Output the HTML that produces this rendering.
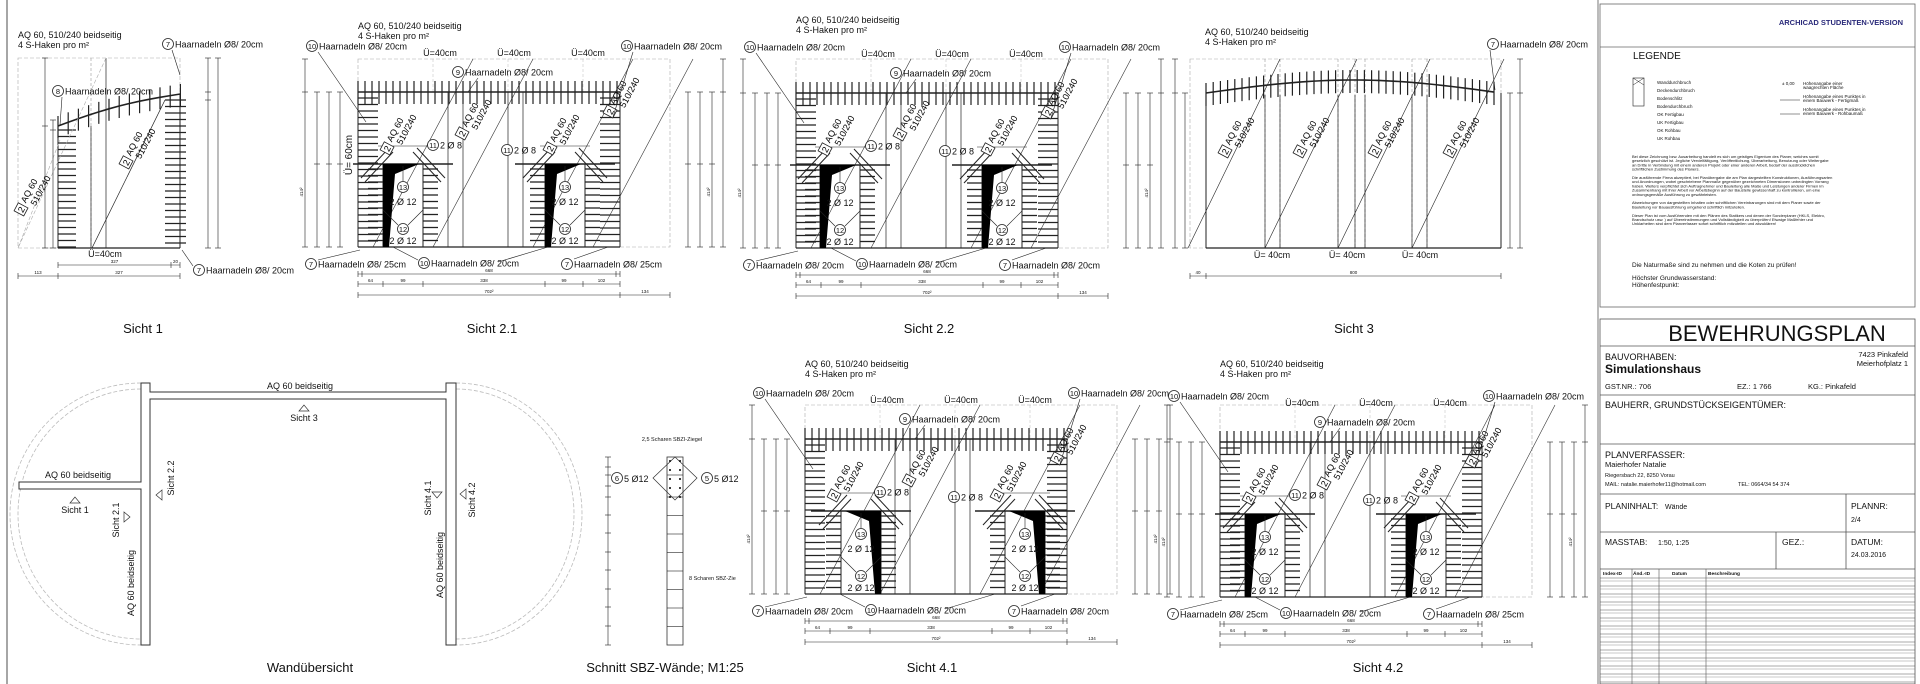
<!DOCTYPE html>
<html><head><meta charset="utf-8"><style>
html,body{margin:0;padding:0;background:#fff;}
svg{display:block;font-family:"Liberation Sans",sans-serif;}
</style></head><body>
<svg id="s" width="1920" height="684" viewBox="0 0 1920 684" xmlns="http://www.w3.org/2000/svg">
<rect width="1920" height="684" fill="#fff"/>
<g id="g"></g>
</svg>
<script>
var S=[];
function L(x1,y1,x2,y2,w,c,d){S.push('<line x1="'+x1+'" y1="'+y1+'" x2="'+x2+'" y2="'+y2+'" stroke="'+(c||'#222')+'" stroke-width="'+(w||0.8)+'"'+(d?' stroke-dasharray="'+d+'"':'')+'/>');}
function R(x,y,w,h,sw,c,d,f){S.push('<rect x="'+x+'" y="'+y+'" width="'+w+'" height="'+h+'" fill="'+(f||'none')+'" stroke="'+(c||'#222')+'" stroke-width="'+(sw||0.8)+'"'+(d?' stroke-dasharray="'+d+'"':'')+'/>');}
function T(x,y,s,fs,a,rot,wt,col){S.push('<text x="'+x+'" y="'+y+'" font-size="'+(fs||9)+'" text-anchor="'+(a||'start')+'"'+(rot?' transform="rotate('+rot+' '+x+' '+y+')"':'')+' font-weight="'+(wt||'normal')+'" fill="'+(col||'#111')+'">'+s+'</text>');}
function C(x,y,n){S.push('<circle cx="'+x+'" cy="'+y+'" r="5.5" fill="#fff" stroke="#222" stroke-width="0.8"/>');T(x,y+3,n,7.5,'middle');}
function CT(x,y,n,s){C(x,y,n);T(x+7,y+3.5,s,9);}
function AQ(x,y){S.push('<g transform="translate('+x+' '+y+') rotate(-62)"><rect x="0" y="-9" width="9" height="11" fill="#fff" stroke="#222" stroke-width="0.8"/><text x="4.5" y="0" font-size="9" text-anchor="middle">2</text><text x="12" y="-2" font-size="9">AQ 60</text><text x="14" y="8" font-size="9">510/240</text></g>');}
function P(pts,f){S.push('<polygon points="'+pts+'" fill="'+(f||'#000')+'"/>');}
function vdim(x,ys){L(x,ys[0],x,ys[ys.length-1],0.6);ys.forEach(function(y){L(x-3,y,x+3,y,0.6);});}
function hdim(y,xs,labs){L(xs[0],y,xs[xs.length-1],y,0.6);xs.forEach(function(x){L(x,y-3,x,y+3,0.6);});if(labs)for(var i=0;i<labs.length;i++)T((xs[i]+xs[i+1])/2,y-2,labs[i],4.5,'middle');}

function wallView(Lx,Tp,ops,triRight,dashTop){
 var B=Tp+155,W=262;
 R(Lx,dashTop,312,B-dashTop,0.6,'#aaa','4 2');
 [75,150,225].forEach(function(o){L(Lx+o,dashTop,Lx+o,Tp,0.5,'#bbb','3 2');});
 // diagonals
 [15,75,175,235].forEach(function(o){L(Lx+o,B,Lx+o+100,dashTop,0.6,'#333');});
 // top hatch
 L(Lx,Tp,Lx+W,Tp,1.6);
 for(var x=Lx;x<=Lx+W;x+=7)L(x,Tp-11,x,Tp+12,1.2);
 // columns
 for(var y=Tp+6;y<B;y+=6.5){L(Lx,y,Lx+20,y,1.3);L(Lx+242,y,Lx+W,y,1.3);}
 L(Lx,Tp,Lx,B,1);L(Lx+W,Tp,Lx+W,B,1);
 [90,105,150,165].forEach(function(o){L(Lx+o,Tp,Lx+o,B,0.7);});
 L(Lx,B,Lx+W,B,1.3);
 ops.forEach(function(o){
  var a=Lx+o,lt=Tp+72;
  L(a-30,lt,a+70,lt,1.6);
  for(var y=lt+5;y<B;y+=6.5){L(a-15,y,a,y,1.3);L(a+40,y,a+55,y,1.3);}
  L(a,lt,a,B,1);L(a+40,lt,a+40,B,1);
  L(a-22,lt+14,a+6,lt-16,1);L(a-18,lt+18,a+10,lt-12,1);
  L(a+34,lt-16,a+62,lt+14,1);L(a+30,lt-12,a+58,lt+18,1);
  L(a-5,lt-18,a+45,lt-18,0.6);
  if(!triRight)P((a)+','+lt+' '+(a+36)+','+lt+' '+(a+12)+','+(lt+10)+' '+(a+6)+','+B+' '+a+','+B);
  else P((a+40)+','+lt+' '+(a+4)+','+lt+' '+(a+28)+','+(lt+10)+' '+(a+34)+','+B+' '+(a+40)+','+B);
  C(a+20,Tp+95,'13');T(a+20,Tp+113,'2 Ø 12',9,'middle');
  C(a+20,Tp+137,'12');T(a+20,Tp+152,'2 Ø 12',9,'middle');
  L(a+20,Tp+89,a+20,lt+2,0.6);L(a+15,Tp+133,a,Tp+118,0.6);L(a+25,Tp+133,a+40,Tp+118,0.6);
 });
 // dims
 [-53,-41,-29,-18].forEach(function(o,i){vdim(Lx+o,i==0?[dashTop,Tp,B]:[Tp,Tp+72,B]);});
 [330,342,354,365].forEach(function(o,i){vdim(Lx+o,i==3?[dashTop,Tp,B]:[Tp,Tp+72,B]);});
 T(Lx-55,Tp+100,'414²',4.5,'middle',-90);T(Lx+352,Tp+100,'414²',4.5,'middle',-90);
 hdim(B+27,[Lx,Lx+4,Lx+258,Lx+W],['','668','']);
 hdim(B+37,[Lx,Lx+25,Lx+65,Lx+187,Lx+225,Lx+W],['64','99','338','99','102']);
 hdim(B+48,[Lx,Lx+W,Lx+312],['702²','134']);
 // AQ labels
 AQ(Lx+30,Tp+62);AQ(Lx+105,Tp+47);AQ(Lx+193,Tp+62);AQ(Lx+253,Tp+25);
}
function wallTexts(Lx,Tp,ty,ibot,seven2){
 T(Lx,ty,'AQ 60, 510/240 beidseitig',9);T(Lx,ty+10,'4 S-Haken pro m²',9);
 CT(Lx-46,Tp-46,'10','Haarnadeln Ø8/ 20cm');L(Lx-40,Tp-40,Lx+8,Tp+30,0.6);
 T(Lx+82,Tp-36,'Ü=40cm',9,'middle');T(Lx+156,Tp-36,'Ü=40cm',9,'middle');T(Lx+230,Tp-36,'Ü=40cm',9,'middle');
 CT(Lx+100,Tp-20,'9','Haarnadeln Ø8/ 20cm');L(Lx+120,Tp-14,Lx+110,Tp,0.6);
 CT(Lx+269,Tp-46,'10','Haarnadeln Ø8/ 20cm');L(Lx+275,Tp-40,Lx+255,Tp+25,0.6);
 CT(Lx+75,Tp+53,'11','2 Ø 8');CT(Lx+149,Tp+58,'11','2 Ø 8');
 CT(Lx-47,Tp+172,'7',ibot);L(Lx-40,Tp+168,Lx+2,Tp+158,0.6);
 CT(Lx+66,Tp+171,'10','Haarnadeln Ø8/ 20cm');L(Lx+60,Tp+168,Lx+35,Tp+155,0.6);L(Lx+140,Tp+170,Lx+190,Tp+155,0.6);
 CT(Lx+209,Tp+172,'7',seven2);L(Lx+216,Tp+167,Lx+250,Tp+155,0.6);
}
// left frame
L(7,0,7,684,1.5,'#888');L(1598,0,1598,684,1,'#777');
// Sicht 1
R(18,58,162,190,0.6,'#aaa','4 2');
L(91,58,91,248,0.6,'#999','3 2');L(106,58,106,248,0.7);L(91,126,91,248,0.7);
var pts=[];for(var i=0;i<=12;i++){var x=58+i*10.2;var y=126-32*i/12-4*Math.sin(Math.PI*i/12);pts.push(x+','+y);L(x,y-10,x,y+12,1.2);}
S.push('<polyline points="'+pts.join(' ')+'" fill="none" stroke="#222" stroke-width="1.6"/>');
for(var y=130;y<248;y+=6.5)L(58,y,76,y,1.3);for(var y=100;y<248;y+=6.5)L(165,y,186,y,1.3);
L(58,126,58,248,1);L(180,94,180,248,1);L(58,248,180,248,1.3);
L(92,248,165,100,0.7);L(18,248,60,140,0.6,'#aaa','4 2');L(106,58,18,248,0.6,'#aaa','4 2');
T(18,38,'AQ 60, 510/240 beidseitig',9);T(18,48,'4 S-Haken pro m²',9);
CT(168,44,'7','Haarnadeln Ø8/ 20cm');L(172,50,180,75,0.6);
CT(58,91,'8','Haarnadeln Ø8/ 20cm');L(62,97,60,125,0.6);
T(105,257,'Ü=40cm',9,'middle');AQ(22,215);AQ(127,168);
CT(199,270,'7','Haarnadeln Ø8/ 20cm');L(193,266,182,250,0.6);
vdim(45,[58,126,248]);vdim(53,[120,130,248]);vdim(208,[58,92,100,248]);vdim(218,[58,248]);
hdim(265,[58,171,180],['327','20']);hdim(276,[18,58,180],['113','327']);
T(143,333,'Sicht 1',13,'middle');
// Sicht 2.1 / 2.2
wallView(358,92,[25,187],false,59);wallTexts(358,92,29,'Haarnadeln Ø8/ 25cm','Haarnadeln Ø8/ 25cm');
T(352,155,'Ü= 60cm',10,'middle',-90);
T(492,333,'Sicht 2.1',13,'middle');
wallView(796,93,[24,186],false,59);wallTexts(796,93,23,'Haarnadeln Ø8/ 20cm','Haarnadeln Ø8/ 20cm');
T(929,333,'Sicht 2.2',13,'middle');
// Sicht 4.1 / 4.2
wallView(805,439,[36,200],true,405);wallTexts(805,439,367,'Haarnadeln Ø8/ 20cm','Haarnadeln Ø8/ 20cm');
T(932,672,'Sicht 4.1',13,'middle');
wallView(1220,442,[25,186],false,405);wallTexts(1220,442,367,'Haarnadeln Ø8/ 25cm','Haarnadeln Ø8/ 25cm');
T(1378,672,'Sicht 4.2',13,'middle');
// Sicht 3
R(1190,59,311,189,0.6,'#aaa','4 2');
[1265,1280,1338,1355,1365,1412,1427].forEach(function(x){L(x,59,x,248,0.6,'#999','3 2');L(x,95,x,248,0.7);});
var p3=[];for(var x=1206;x<=1501;x+=7.2){var t=(x-1206)/295;var y=93-13*Math.sin(Math.PI*t);p3.push(x+','+y);L(x,y-10,x,y+13,1.2);}
S.push('<polyline points="'+p3.join(' ')+'" fill="none" stroke="#222" stroke-width="1.6"/>');
L(1206,93,1206,248,1);L(1501,93,1501,248,1);L(1206,248,1501,248,1.3);
[1188,1265,1338,1412].forEach(function(x){L(x,248,x+92,59,0.6);});
AQ(1226,157);AQ(1301,157);AQ(1376,157);AQ(1451,157);
T(1272,258,'Ü= 40cm',9,'middle');T(1347,258,'Ü= 40cm',9,'middle');T(1420,258,'Ü= 40cm',9,'middle');
T(1205,35,'AQ 60, 510/240 beidseitig',9);T(1205,45,'4 S-Haken pro m²',9);
CT(1493,44,'7','Haarnadeln Ø8/ 20cm');L(1490,50,1495,90,0.6);
vdim(1175,[59,93,248]);vdim(1185,[93,248]);vdim(1510,[93,248]);vdim(1520,[59,93,248]);
hdim(276,[1190,1206,1501],['40','800']);
T(1354,333,'Sicht 3',13,'middle');
// Wandübersicht
S.push('<path d="M141 383 A131 131 0 0 0 141 645" fill="none" stroke="#bbb" stroke-width="0.8" stroke-dasharray="4 2"/>');
S.push('<path d="M141 389 A123 125 0 0 0 141 639" fill="none" stroke="#bbb" stroke-width="0.8" stroke-dasharray="4 2"/>');
S.push('<path d="M456 383 A126 131 0 0 1 456 645" fill="none" stroke="#bbb" stroke-width="0.8" stroke-dasharray="4 2"/>');
S.push('<path d="M456 389 A118 125 0 0 1 456 639" fill="none" stroke="#bbb" stroke-width="0.8" stroke-dasharray="4 2"/>');
S.push('<path d="M141 383 L150 383 L150 392 L446 392 L446 383 L456 383 L456 645 L446 645 L446 399 L150 399 L150 645 L141 645 L141 489 L19 489 L19 482 L141 482 Z" fill="#fff" stroke="#333" stroke-width="1"/>');
T(300,389,'AQ 60 beidseitig',9,'middle');
S.push('<polygon points="304,405 299,411 309,411" fill="none" stroke="#333" stroke-width="0.7"/>');T(304,421,'Sicht 3',9,'middle');
T(78,478,'AQ 60 beidseitig',9,'middle');
S.push('<polygon points="75,497 70,503 80,503" fill="none" stroke="#333" stroke-width="0.7"/>');T(75,513,'Sicht 1',9,'middle');
T(119,520,'Sicht 2.1',9,'middle',-90);S.push('<polygon points="124,512 124,522 130,517" fill="none" stroke="#333" stroke-width="0.7"/>');
T(174,478,'Sicht 2.2',9,'middle',-90);S.push('<polygon points="162,490 162,500 156,495" fill="none" stroke="#333" stroke-width="0.7"/>');
T(134,583,'AQ 60 beidseitig',9,'middle',-90);
T(431,498,'Sicht 4.1',9,'middle',-90);S.push('<polygon points="432,492 442,492 437,498" fill="none" stroke="#333" stroke-width="0.7"/>');
T(443,565,'AQ 60 beidseitig',9,'middle',-90);
T(475,500,'Sicht 4.2',9,'middle',-90);S.push('<polygon points="466,489 466,499 460,494" fill="none" stroke="#333" stroke-width="0.7"/>');
T(310,672,'Wandübersicht',13,'middle');
// Schnitt SBZ
R(667,457,16,188,0.8,'#333');
for(var y=497;y<645;y+=18.5)L(667,y,683,y,0.6);
L(667,475,683,475,0.6);
vdim(608,[457,467,475,486,497,515,533,552,570,589,607,626,645]);
S.push('<polygon points="675,457 697,478 675,500 653,478" fill="none" stroke="#333" stroke-width="0.7"/>');
[[670,461],[680,461],[670,470],[680,470],[670,479],[680,479],[670,488],[680,488],[670,497],[680,497]].forEach(function(p){S.push('<circle cx="'+p[0]+'" cy="'+p[1]+'" r="1" fill="#000"/>');});
T(672,441,'2,5 Scharen SBZI-Ziegel',5.5,'middle');
C(617,478,'6');T(624,482,'5 Ø12',9);C(707,478,'5');T(714,482,'5 Ø12',9);
T(689,580,'8 Scharen SBZ-Zie',5.5);
T(665,672,'Schnitt SBZ-Wände; M1:25',13,'middle');
// Title block
R(1600,4,315,303,0.8,'#666');L(1600,47,1915,47,0.8,'#666');
T(1903,25,'ARCHICAD STUDENTEN-VERSION',7.5,'end',0,'bold','#2a2a7a');
T(1633,59,'LEGENDE',10);
R(1633,78,11,28,0.6);L(1633,78,1644,85,0.5);L(1644,78,1633,85,0.5);
var lg=['Wanddurchbruch','Deckendurchbruch','Bodenschlitz','Bodendurchbruch','OK Fertigbau','UK Fertigbau','OK Rohbau','UK Rohbau'];
lg.forEach(function(s,i){T(1657,84+i*8,s,4.5);});
T(1782,85,'± 0,00',4.5);T(1803,85,'Höhenangabe einer',4.5);T(1803,89,'waagrechten Fläche',4.5);
T(1803,98,'Höhenangabe eines Punktes in',4.5);T(1803,102,'einem Bauwerk - Fertigmaß',4.5);
T(1803,111,'Höhenangabe eines Punktes in',4.5);T(1803,115,'einem Bauwerk - Rohbaumaß',4.5);
L(1780,100,1800,100,0.6);L(1780,114,1800,114,0.6);
var par=['Bei diese Zeichnung bzw. Ausarbeitung handelt es sich um geistiges Eigentum des Planer, welches somit','gesetzlich geschützt ist. Jegliche Vervielfältigung, Veröffentlichung, Überarbeitung, Benutzung oder Weitergabe','an Dritte in Verbindung mit einem anderen Projekt oder einer anderen Arbeit, bedarf der ausdrücklichen','schriftlichen Zustimmung des Planers.','','Die ausführende Firma akzeptiert, bei Planübergabe die am Plan dargestellten Konstruktionen, Ausführungsarten','und Anordnungen, wobei geschriebene Planmaße gegenüber gezeichneten Dimensionen unbedingten Vorrang','haben. Weiters verpflichtet sich Auftragnehmer und Bauleitung alle Maße und Leistungen anderer Firmen im','Zusammenhang mit ihrer Arbeit vor Arbeitsbeginn auf der Baustelle gewissenhaft zu kontrollieren, um eine','ordnungsgemäße Ausführung zu gewährleisten.','','Abweichungen von dargestellten Inhalten oder schriftlichen Vereinbarungen sind mit dem Planer sowie der','Bauleitung vor Bauausführung umgehend schriftlich mitzuteilen.','','Dieser Plan ist vom Ausführenden mit den Plänen des Statikers und denen der Sonderplaner (HKLS, Elektro,','Brandschutz usw. ) auf Übereinstimmungen und Vollständigkeit zu überprüfen! Etwaige Maßfehler und','Unklarheiten sind dem Planverfasser sofort schriftlich mitzuteilen und abzuklären!'];
par.forEach(function(s,i){if(s)T(1632,158+i*4.2,s,4);});
T(1632,267,'Die Naturmaße sind zu nehmen und die Koten zu prüfen!',6.5);
T(1632,280,'Höchster Grundwasserstand:',6.5);T(1632,287,'Höhenfestpunkt:',6.5);
R(1600,319,315,365,0.8,'#555');
T(1777,341,'BEWEHRUNGSPLAN',22,'middle');
L(1600,346,1915,346,0.8,'#555');
T(1605,360,'BAUVORHABEN:',9);T(1605,373,'Simulationshaus',12,'start',0,'bold');
T(1908,357,'7423 Pinkafeld',7.5,'end');T(1908,366,'Meierhofplatz 1',7.5,'end');
T(1605,389,'GST.NR.: 706',7.5);T(1737,389,'EZ.: 1 766',7.5);T(1808,389,'KG.: Pinkafeld',7.5);
L(1600,395,1915,395,0.8,'#555');
T(1605,408,'BAUHERR, GRUNDSTÜCKSEIGENTÜMER:',9);
L(1600,444,1915,444,0.8,'#555');
T(1605,458,'PLANVERFASSER:',9);T(1605,467,'Maierhofer Natalie',7.5);
T(1605,477,'Riegersbach 22, 8250 Vorau',5.5);T(1605,486,'MAIL: natalie.maierhofer11@hotmail.com',5.5);T(1738,486,'TEL: 0664/34 54 374',5.5);
L(1600,494,1915,494,0.8,'#555');
T(1605,509,'PLANINHALT:',8.5);T(1665,509,'Wände',7);
L(1846,494,1846,569,0.8,'#555');
T(1851,509,'PLANNR:',8.5);T(1851,522,'2/4',7);
L(1600,532,1915,532,0.8,'#555');
T(1605,545,'MASSTAB:',8.5);T(1658,545,'1:50, 1:25',7);
L(1776,532,1776,569,0.8,'#555');T(1782,545,'GEZ.:',8.5);
T(1851,545,'DATUM:',8.5);T(1851,557,'24.03.2016',7);
L(1600,569,1915,569,0.8,'#555');
T(1603,575,'Index-ID',4.8,'start',0,'bold');T(1633,575,'Änd.-ID',4.8,'start',0,'bold');T(1672,575,'Datum',4.8,'start',0,'bold');T(1708,575,'Beschreibung',4.8,'start',0,'bold');
[1632,1659,1706].forEach(function(x){L(x,569,x,684,0.6,'#555');});
for(var y=578;y<684;y+=8){L(1600,y,1915,y,0.5,'#555');L(1600,y+3,1915,y+3,0.4,'#777');}
document.getElementById('g').innerHTML=S.join('');
</script>
</body></html>
